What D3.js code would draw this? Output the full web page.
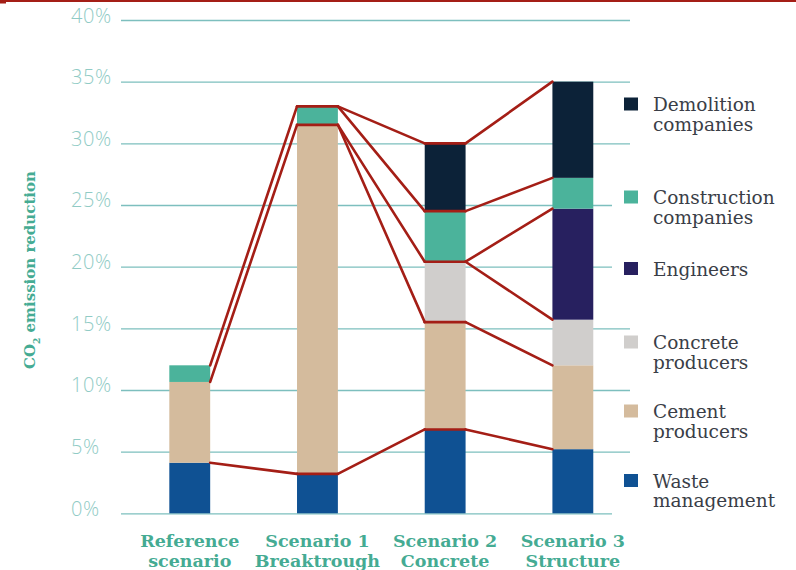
<!DOCTYPE html>
<html>
<head>
<meta charset="utf-8">
<script src="https://cdn.jsdelivr.net/npm/d3@7/dist/d3.min.js"></script>
<style>
  html, body { margin: 0; padding: 0; background: #ffffff; }
  svg { display: block; }
</style>
</head>
<body>
<svg id="chart" width="796" height="570"></svg>
<script>
// ---------------- DATA ----------------
const scenarioLabels = [
  ["Reference", "scenario"],
  ["Scenario 1", "Breaktrough"],
  ["Scenario 2", "Concrete"],
  ["Scenario 3", "Structure"]
];
// stack order, bottom -> top
const sectors = ["Waste management", "Cement producers", "Concrete producers",
                 "Engineers", "Construction companies", "Demolition companies"];
const wasteManagement       = [4.1, 3.2, 6.8, 5.2];
const cementProducers       = [6.55, 28.3, 8.7, 6.8];
const concreteProducers     = [0, 0, 4.9, 3.7];
const engineers             = [0, 0, 0, 9.0];
const constructionCompanies = [1.35, 1.5, 4.1, 2.5];
const demolitionCompanies   = [0, 0, 5.5, 7.8];
const yTicks = [0, 5, 10, 15, 20, 25, 30, 35, 40];
// flow links: [from scenario, top of layer in from-bar, top of layer in next bar]
const links = [
  [0, 0, 0], [0, 4, 5], [0, 1, 1],
  [1, 0, 0], [1, 5, 5], [1, 5, 4], [1, 1, 3], [1, 1, 1],
  [2, 0, 0], [2, 1, 1], [2, 3, 2], [2, 3, 3], [2, 4, 4], [2, 5, 5]
];
// legend order, top -> bottom
const legendLabels = [
  ["Demolition", "companies"],
  ["Construction", "companies"],
  ["Engineers"],
  ["Concrete", "producers"],
  ["Cement", "producers"],
  ["Waste", "management"]
];
const legendKeys = ["Demolition companies", "Construction companies", "Engineers",
                    "Concrete producers", "Cement producers", "Waste management"];

// ---------------- STYLE / LAYOUT ----------------
const colors = {
  "Waste management": "#0f5193",
  "Cement producers": "#d4bb9d",
  "Concrete producers": "#d0cecc",
  "Engineers": "#27205f",
  "Construction companies": "#4bb39b",
  "Demolition companies": "#0c2238"
};
const legendY = [104, 197, 268.5, 342, 411, 480.5];
const red = "#a41e16";
const gridColor = "#7dbfbe";
const tickColor = "#90cbc5";
const teal = "#45ab93";

const svg = d3.select("#chart");
const W = 796, H = 570;

const y = d3.scaleLinear().domain([0, 40]).range([513.3, 20]);
const x = d3.scaleBand().domain(d3.range(4)).range([125.9, 636.7])
  .paddingInner(0.68).paddingOuter(0.34);

const gridX0 = 121, gridX1 = 630, gridShortX1 = 612;
const shortGrid = [0, 20, 25];

// top red rule
svg.append("rect").attr("x", 0).attr("y", 0).attr("width", W).attr("height", 2).attr("fill", red);
svg.append("rect").attr("x", 0).attr("y", 0).attr("width", 6).attr("height", 3.5).attr("fill", red);

// gridlines + tick labels via axis
const axis = d3.axisLeft(y).tickValues(yTicks).tickFormat(d => d + "%").tickSize(0);
const gAxis = svg.append("g").attr("transform", `translate(${gridX0},0)`).call(axis);
gAxis.select(".domain").remove();
gAxis.selectAll(".tick line")
  .attr("x1", 0)
  .attr("x2", d => (shortGrid.includes(d) ? gridShortX1 : gridX1) - gridX0)
  .attr("stroke", gridColor).attr("stroke-width", 1.3);
gAxis.selectAll(".tick text")
  .attr("x", 71 - gridX0).attr("dy", 2)
  .attr("text-anchor", "start")
  .attr("dominant-baseline", "auto")
  .attr("fill", tickColor)
  .style("font-family", "'Open Sans', sans-serif")
  .style("font-weight", 300)
  .style("font-size", "20px")
  .style("letter-spacing", "0.6px");

// stacked bars
const rows = d3.range(4).map(i => ({
  i,
  "Waste management": wasteManagement[i],
  "Cement producers": cementProducers[i],
  "Concrete producers": concreteProducers[i],
  "Engineers": engineers[i],
  "Construction companies": constructionCompanies[i],
  "Demolition companies": demolitionCompanies[i]
}));
const stacked = d3.stack().keys(sectors)(rows);

svg.append("g").selectAll("g").data(stacked).join("g")
  .attr("fill", d => colors[d.key])
  .selectAll("rect").data(d => d.filter(p => p[1] - p[0] > 0)).join("rect")
  .attr("x", d => x(d.data.i))
  .attr("width", x.bandwidth())
  .attr("y", d => y(d[1]))
  .attr("height", d => y(d[0]) - y(d[1]));

// flow lines
const topOf = (scen, layer) => stacked[layer][scen][1];
const gLinks = svg.append("g").attr("stroke", red).attr("stroke-width", 2.6)
  .attr("stroke-linecap", "round").attr("fill", "none");
links.forEach(([s, a, b]) => {
  const x1 = x(s) + x.bandwidth(), y1 = y(topOf(s, a));
  const x2 = x(s + 1), y2 = y(topOf(s + 1, b));
  gLinks.append("line").attr("x1", x1).attr("y1", y1).attr("x2", x2).attr("y2", y2);
  if (s + 1 < 3) {
    gLinks.append("line").attr("x1", x2).attr("y1", y2)
      .attr("x2", x2 + x.bandwidth()).attr("y2", y2);
  }
});

// x labels
const gx = svg.append("g");
scenarioLabels.forEach((lines, i) => {
  const t = gx.append("text")
    .attr("x", x(i) + x.bandwidth() / 2).attr("y", 547)
    .attr("text-anchor", "middle")
    .attr("fill", teal)
    .style("font-family", "'DejaVu Serif', serif")
    .style("font-weight", "bold")
    .style("font-size", "17.5px");
  lines.forEach((l, k) => t.append("tspan").attr("x", x(i) + x.bandwidth() / 2).attr("dy", k === 0 ? 0 : 20).text(l));
});

// y title
const yt = svg.append("text")
  .attr("transform", "translate(35,270) rotate(-90)")
  .attr("text-anchor", "middle")
  .attr("fill", teal)
  .style("font-family", "'DejaVu Serif', serif")
  .style("font-weight", "bold")
  .style("font-size", "15px");
yt.append("tspan").text("CO");
yt.append("tspan").attr("baseline-shift", "sub").style("font-size", "9px").text("2");
yt.append("tspan").text(" emission reduction");

// legend
const gl = svg.append("g");
legendKeys.forEach((k, i) => {
  const cy = legendY[i];
  gl.append("rect").attr("x", 624).attr("y", cy - 6.5).attr("width", 14).attr("height", 13)
    .attr("fill", colors[k]);
  const t = gl.append("text").attr("x", 653).attr("y", cy + 7)
    .attr("fill", "#3a3e47")
    .style("font-family", "'DejaVu Serif', serif")
    .style("font-size", "18.5px");
  legendLabels[i].forEach((l, j) => t.append("tspan").attr("x", 653).attr("dy", j === 0 ? 0 : 19.5).text(l));
});
</script>
</body>
</html>
